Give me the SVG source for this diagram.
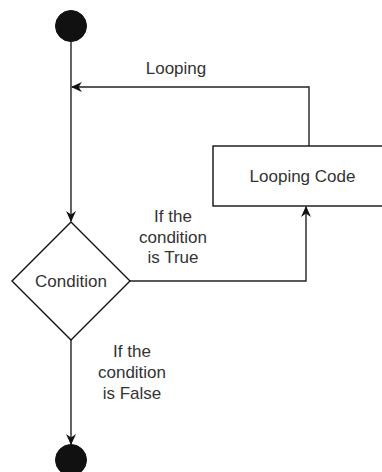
<svg xmlns="http://www.w3.org/2000/svg" width="382" height="472" viewBox="0 0 382 472">
  <style>
    .line { fill: none; stroke: #222; stroke-width: 1.4; }
    .shape { fill: #fff; stroke: #111; stroke-width: 1.4; }
    .dot { fill: #111; stroke: #111; }
    .label { font-family: "Liberation Sans", Arial, sans-serif; font-size: 17px; fill: #333; text-anchor: middle; }
  </style>
  <defs>
    <marker id="arrow" viewBox="0 0 10 10" refX="9" refY="5" markerWidth="11" markerHeight="11" markerUnits="userSpaceOnUse" orient="auto">
      <path d="M0,0.5 L10,5 L0,9.5 L3,5 Z" fill="#111"/>
    </marker>
  </defs>
  <rect width="382" height="472" fill="#fff"/>

  <g id="connectors">
    <path class="line" d="M71,42 L71,221" marker-end="url(#arrow)"/>
    <path class="line" d="M309,146 L309,87 L72,87" marker-end="url(#arrow)"/>
    <path class="line" d="M130,281 L306,281 L306,207" marker-end="url(#arrow)"/>
    <path class="line" d="M71,340 L71,444" marker-end="url(#arrow)"/>
    <text class="label" x="176" y="74">Looping</text>
    <text class="label" x="173" y="222">If the</text>
    <text class="label" x="173" y="243">condition</text>
    <text class="label" x="173" y="263">is True</text>
    <text class="label" x="132" y="357">If the</text>
    <text class="label" x="132" y="378">condition</text>
    <text class="label" x="132" y="399">is False</text>
  </g>

  <g id="start">
    <circle class="dot" cx="71" cy="26" r="15.5"/>
  </g>

  <g id="looping-code">
    <rect class="shape" x="213" y="146" width="180" height="60"/>
    <text class="label" x="302.5" y="182">Looping Code</text>
  </g>

  <g id="condition">
    <path class="shape" d="M71,222 L130,281 L71,340 L12,281 Z"/>
    <text class="label" x="71" y="287">Condition</text>
  </g>

  <g id="end">
    <circle class="dot" cx="71" cy="460" r="15.5"/>
  </g>
</svg>
